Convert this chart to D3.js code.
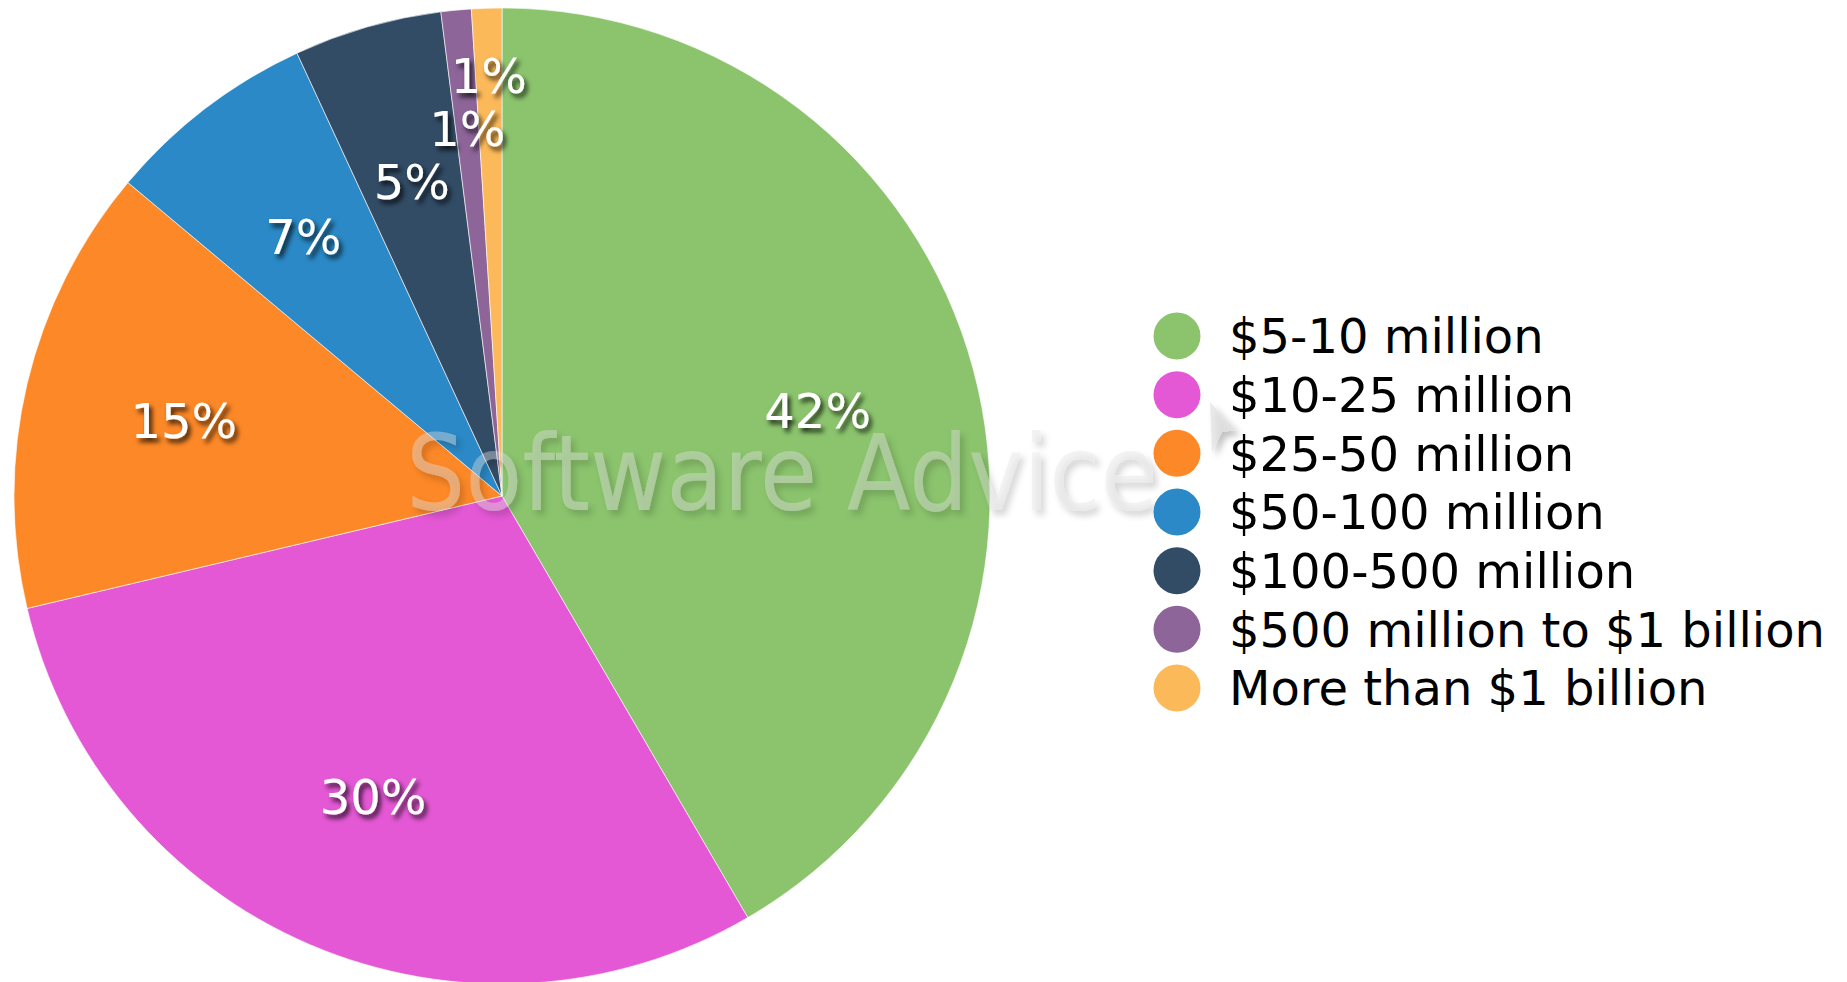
<!DOCTYPE html>
<html>
<head>
<meta charset="utf-8">
<script src="https://cdn.jsdelivr.net/npm/d3@7"></script>
<style>
  html, body { margin: 0; padding: 0; background: #fff; overflow: hidden; }
  text { font-family: "DejaVu Sans", Verdana, sans-serif; }
</style>
</head>
<body>
<script>
// revenue bands, share of respondents (%)
var categories = ["$5-10 million", "$10-25 million", "$25-50 million", "$50-100 million",
                  "$100-500 million", "$500 million to $1 billion", "More than $1 billion"];
var shares = [41.6, 29.7, 14.8, 7.0, 4.9, 1.0, 1.0];
var labels = ["42%", "30%", "15%", "7%", "5%", "1%", "1%"];
var colors = ["#8bc46d", "#e458d5", "#fd8827", "#2a89c6", "#324c66", "#8d6599", "#fcb95a"];

var width = 1847, height = 982;
var cx = 502, cy = 496, R = 488;

var svg = d3.select("body").append("svg").attr("width", width).attr("height", height);

var defs = svg.append("defs");
var f = defs.append("filter").attr("id", "lblShadow").attr("x", "-20%").attr("y", "-20%").attr("width", "150%").attr("height", "160%");
f.append("feDropShadow").attr("dx", 3).attr("dy", 4).attr("stdDeviation", 2.5)
  .attr("flood-color", "#000").attr("flood-opacity", 0.8);
var wf = defs.append("filter").attr("id", "wmShadow").attr("x", "-10%").attr("y", "-20%").attr("width", "130%").attr("height", "160%");
wf.append("feDropShadow").attr("dx", 4).attr("dy", 5).attr("stdDeviation", 3)
  .attr("flood-color", "#000").attr("flood-opacity", 0.4);

var pie = d3.pie().sort(null).value(function(d) { return d; });
var arcs = pie(shares);
var arc = d3.arc().innerRadius(0).outerRadius(R);

var g = svg.append("g").attr("transform", "translate(" + cx + "," + cy + ")");
g.selectAll("path")
  .data(arcs)
  .enter().append("path")
    .attr("d", arc)
    .attr("fill", function(d, i) { return colors[i]; })
    .attr("stroke", "#fff")
    .attr("stroke-width", 0.6);

// watermark
var wm = svg.append("g").attr("filter", "url(#wmShadow)");
wm.append("text")
  .attr("transform", "translate(406,510) scale(0.88,1)")
  .attr("font-size", 106)
  .attr("fill", "#e2e2e2").attr("fill-opacity", 0.4)
  .text("Software Advice");
wm.append("path")
  .attr("d", "M1210,402 L1236,430 L1222,432 L1212,452 Z")
  .attr("fill", "#dddddd").attr("fill-opacity", 0.6);

// percentage labels, pushed outward when they collide
var placed = [];
var lblW = function(t) { return t.length * 30 + 14; };
var lblH = 52;
arcs.forEach(function(d, i) {
  var a = (d.startAngle + d.endAngle) / 2;
  var r = R * 0.67;
  var x, y, box;
  for (;;) {
    x = Math.sin(a) * r; y = -Math.cos(a) * r;
    box = { x0: x - lblW(labels[i]) / 2, x1: x + lblW(labels[i]) / 2, y0: y - lblH / 2, y1: y + lblH / 2 };
    var hit = placed.some(function(b) {
      return box.x0 < b.x1 && box.x1 > b.x0 && box.y0 < b.y1 && box.y1 > b.y0;
    });
    if (!hit || r > R) break;
    r += 2;
  }
  placed.push(box);
  d.lx = x; d.ly = y;
});

g.selectAll("text.lbl")
  .data(arcs)
  .enter().append("text")
    .attr("class", "lbl")
    .attr("x", function(d) { return d.lx; })
    .attr("y", function(d) { return d.ly; })
    .attr("dy", "0.36em")
    .attr("text-anchor", "middle")
    .attr("font-size", 48)
    .attr("fill", "#fff")
    .attr("filter", "url(#lblShadow)")
    .text(function(d, i) { return labels[i]; });

// legend
var ly = d3.scalePoint().domain(categories).range([336, 688]);
var leg = svg.append("g").selectAll("g")
  .data(categories)
  .enter().append("g")
    .attr("transform", function(d) { return "translate(1177," + ly(d) + ")"; });
leg.append("circle").attr("r", 23.5).attr("fill", function(d, i) { return colors[i]; });
leg.append("text")
  .attr("x", 52).attr("dy", "0.36em")
  .attr("font-size", 48)
  .attr("fill", "#000")
  .text(function(d) { return d; });
</script>
</body>
</html>
